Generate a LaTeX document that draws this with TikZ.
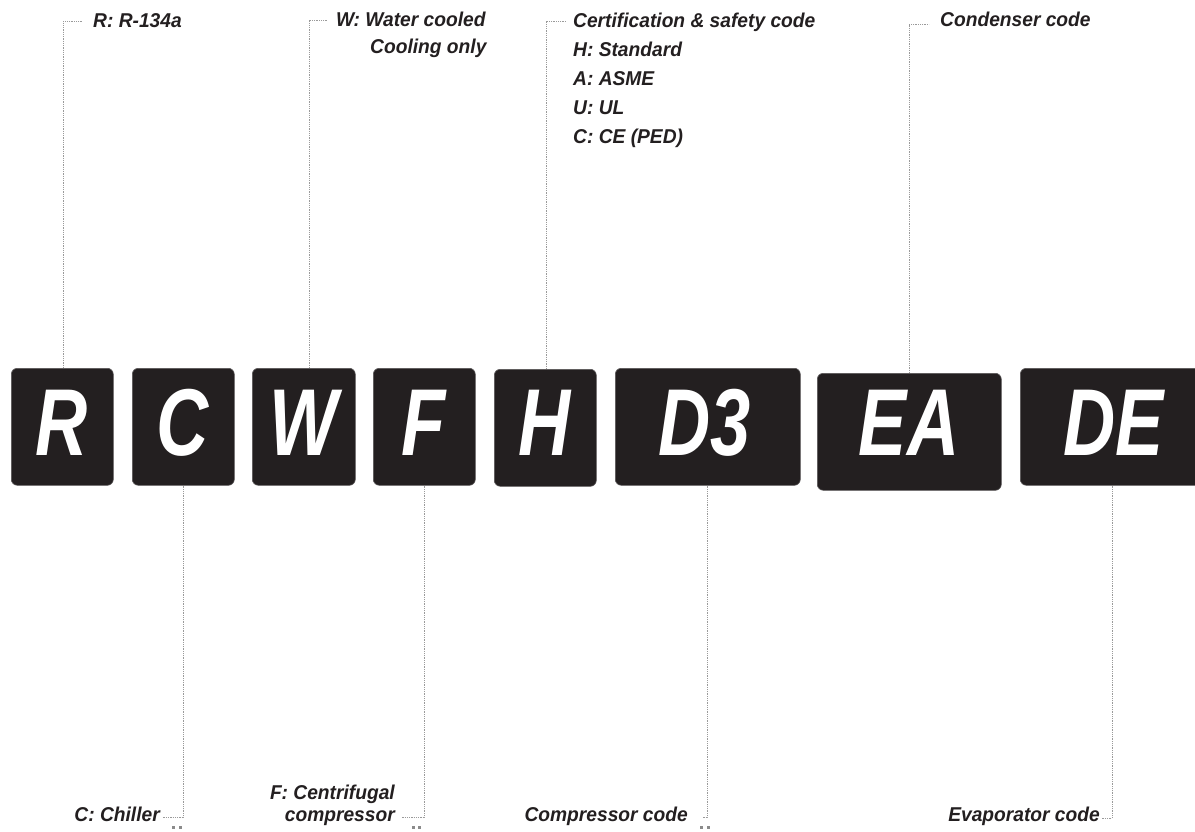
\documentclass[tikz,border=0pt]{standalone}
\usepackage{fontspec}
\newfontfamily\labfont{Liberation Sans}[FakeStretch=0.96]
\newfontfamily\bigfont{Liberation Sans}[FakeStretch=0.76]
\definecolor{boxblack}{HTML}{231F20}
\definecolor{leadgray}{HTML}{9A9A9A}
\begin{document}
\begin{tikzpicture}[x=1pt,y=-1pt,
  codebox/.style={fill=boxblack, draw=boxblack!75, line width=0.6pt, rounded corners=6pt, inner sep=0pt, anchor=north west, minimum height=117pt},
  codeletter/.style={text=white, font=\bigfont\bfseries\itshape\fontsize{95}{95}\selectfont, anchor=base, inner sep=0pt},
  lab/.style={text=boxblack, font=\labfont\bfseries\itshape\fontsize{20}{20}\selectfont, inner sep=0pt},
  leader/.style={draw=leadgray, line width=0.9pt, dash pattern=on 1pt off 0.8pt},
  stubdot/.style={fill=leadgray!90!black}
]
\useasboundingbox (0,0) rectangle (1195,832);
\clip (0,0) rectangle (1195,832);
\fill[white] (0,0) rectangle (1195,832);

% code boxes
\node[codebox, minimum width=102pt] (bR) at (11,368) {};
\node[codebox, minimum width=102pt] (bC) at (132,368) {};
\node[codebox, minimum width=103pt] (bW) at (252,368) {};
\node[codebox, minimum width=102pt] (bF) at (373,368) {};
\node[codebox, minimum width=102pt] (bH) at (494,369) {};
\node[codebox, minimum width=185pt] (bD) at (615,368) {};
\node[codebox, minimum width=184pt] (bEA) at (817,373) {};
\node[codebox, minimum width=188pt] (bDE) at (1020,368) {};

% letters
\node[codeletter] (lR) at (62,455) {R};
\node[codeletter] (lC) at (183,455) {C};
\node[codeletter] (lW) at (303.5,455) {W};
\node[codeletter] (lF) at (424,455) {F};
\node[codeletter] (lH) at (545,455) {H};
\node[codeletter] (lD) at (705,455) {D3};
\node[codeletter] (lEA) at (909,455) {EA};
\node[codeletter] (lDE) at (1114,455) {DE};

% top labels
\node[lab, anchor=base west] (tR) at (93,28) {R: R-134a};
\node[lab, anchor=base west] (tW1) at (336,27) {W: Water cooled};
\node[lab, anchor=base west] (tW2) at (370,54) {Cooling only};
\node[lab, anchor=base west] (tH1) at (573,28) {Certification \& safety code};
\node[lab, anchor=base west] (tH2) at (573,57) {H: Standard};
\node[lab, anchor=base west] (tH3) at (573,86) {A: ASME};
\node[lab, anchor=base west] (tH4) at (573,115) {U: UL};
\node[lab, anchor=base west] (tH5) at (573,144) {C: CE (PED)};
\node[lab, anchor=base west] (tEA) at (940,27) {Condenser code};

% bottom labels
\node[lab, anchor=base east] (tC) at (160,821) {C: Chiller};
\node[lab, anchor=base east] (tF1) at (395,799) {F: Centrifugal};
\node[lab, anchor=base east] (tF2) at (395,821) {compressor};
\node[lab, anchor=base east] (tD) at (688,821) {Compressor code};
\node[lab, anchor=base east] (tDE) at (1100,821) {Evaporator code};

% leader end coordinates
\coordinate (eR) at (83,21);
\coordinate (eW) at (328,20);
\coordinate (eH) at (566,21);
\coordinate (eEA) at (929,24);
\coordinate (eC) at (163,817);
\coordinate (eF) at (401,817);
\coordinate (eD) at (702,817);
\coordinate (eDE) at (1102,818);

% top leaders
\draw[leader] (bR.north -| 63,0) |- (eR);
\draw[leader] (bW.north -| 309,0) |- (eW);
\draw[leader] (bH.north -| 546,0) |- (eH);
\draw[leader] (bEA.north -| 909,0) |- (eEA);

% bottom leaders
\draw[leader] (bC.south -| 183,0) |- (eC);
\draw[leader] (bF.south -| 424,0) |- (eF);
\draw[leader] (bD.south -| 707,0) |- (eD);
\draw[leader] (bDE.south -| 1112,0) |- (eDE);

% small dots under leaders
\fill[stubdot] (172,826) rectangle ++(3,3);
\fill[stubdot] (179,826) rectangle ++(3,3);
\fill[stubdot] (412,826) rectangle ++(3,3);
\fill[stubdot] (418,826) rectangle ++(3,3);
\fill[stubdot] (700,826) rectangle ++(3,3);
\fill[stubdot] (707,826) rectangle ++(3,3);
\end{tikzpicture}
\end{document}
